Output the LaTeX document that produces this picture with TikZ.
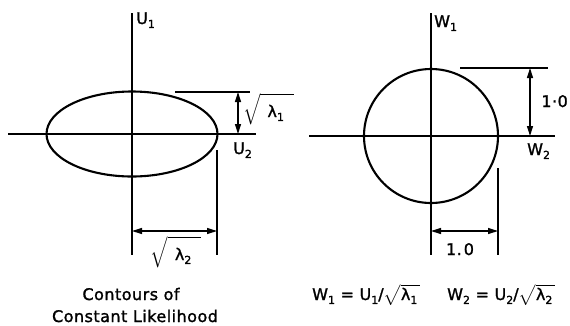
\RequirePackage{fix-cm}
\documentclass[tikz,border=0pt]{standalone}
\usepackage{amsmath}
\usepackage{fontspec}
\setmainfont[LetterSpace=3,FakeBold=1.4]{DejaVu Sans}
\usetikzlibrary{arrows.meta,shapes.geometric}
\newcommand{\sbs}[1]{\raisebox{-0.45ex}{\fontsize{11}{11}\selectfont #1}}
\newcommand{\bigrad}[1]{\(\sqrt{\rule[-4pt]{0pt}{21pt}\mbox{\hspace{7pt}λ\sbs{#1}\hspace{10pt}}}\)}
\begin{document}
\begin{tikzpicture}[x=1pt,y=-1pt,
  axis/.style={line width=1.3pt},
  curve/.style={draw,line width=2.1pt,inner sep=0pt},
  ext/.style={line width=1.3pt},
  dim/.style={line width=1.3pt,{Triangle[length=10pt,width=6pt]}-{Triangle[length=10pt,width=6pt]}},
  lbl/.style={font=\fontsize{16}{22}\selectfont,inner sep=0pt}]
\useasboundingbox (0,0) rectangle (570,325);
% ---------- left panel ----------
\coordinate (o1) at (132,134);
\node[curve,ellipse,minimum width=171,minimum height=85] (ell) at (o1) {};
\coordinate (u1top) at (132,13);
\coordinate (u1bot) at (132,255);
\coordinate (u2l) at (8,134);
\coordinate (u2r) at (256,134);
\draw[axis] (u1top) -- (u1bot);
\draw[axis] (u2l) -- (u2r);
\coordinate (e1a) at (175,92);
\coordinate (e1b) at (250,92);
\draw[ext] (e1a) -- (e1b);
\coordinate (d1a) at (238,92);
\coordinate (d1b) at (238,134);
\draw[dim] (d1a) -- (d1b);
\coordinate (e2a) at (217,150);
\coordinate (e2b) at (217,255);
\draw[ext] (e2a) -- (e2b);
\coordinate (d2a) at (132,231);
\coordinate (d2b) at (217,231);
\draw[dim] (d2a) -- (d2b);
\node[lbl,anchor=base west] (lu1) at (136,24) {U\sbs1};
\node[lbl,anchor=base west] (lu2) at (233,154) {U\sbs2};
\node[lbl,anchor=base west] (ll1) at (243,117) {\bigrad1};
\node[lbl,anchor=base] (ll2) at (176,260) {\bigrad2};
\node[lbl,anchor=base] (cap1) at (131,300) {Contours of};
\node[lbl,anchor=base] (cap2) at (135,322) {Constant Likelihood};
% ---------- right panel ----------
\coordinate (o2) at (431,136);
\node[curve,circle,minimum size=134] (circ) at (o2) {};
\coordinate (w1top) at (431,13);
\coordinate (w1bot) at (431,255);
\coordinate (w2l) at (309,136);
\coordinate (w2r) at (555,136);
\draw[axis] (w1top) -- (w1bot);
\draw[axis] (w2l) -- (w2r);
\coordinate (e3a) at (460,68);
\coordinate (e3b) at (548,68);
\draw[ext] (e3a) -- (e3b);
\coordinate (d3a) at (530,68);
\coordinate (d3b) at (530,136);
\draw[dim] (d3a) -- (d3b);
\coordinate (e4a) at (498,168);
\coordinate (e4b) at (498,255);
\draw[ext] (e4a) -- (e4b);
\coordinate (d4a) at (431,231);
\coordinate (d4b) at (498,231);
\draw[dim] (d4a) -- (d4b);
\node[lbl,anchor=base west] (lw1) at (434,27) {W\sbs1};
\node[lbl,anchor=base west] (lw2) at (527,155) {W\sbs2};
\node[lbl,anchor=base east] (lone1) at (568,107) {1·0};
\node[lbl,anchor=base] (lone2) at (460,255) {1.\hspace{2pt}0};
\node[lbl,anchor=base west] (f1) at (312,300) {W\sbs1 = U\sbs1/\(\sqrt{\mbox{λ\sbs1}\,}\)};
\node[lbl,anchor=base west] (f2) at (447,300) {W\sbs2 = U\sbs2/\(\sqrt{\mbox{λ\sbs2}\,}\)};
\end{tikzpicture}
\end{document}
